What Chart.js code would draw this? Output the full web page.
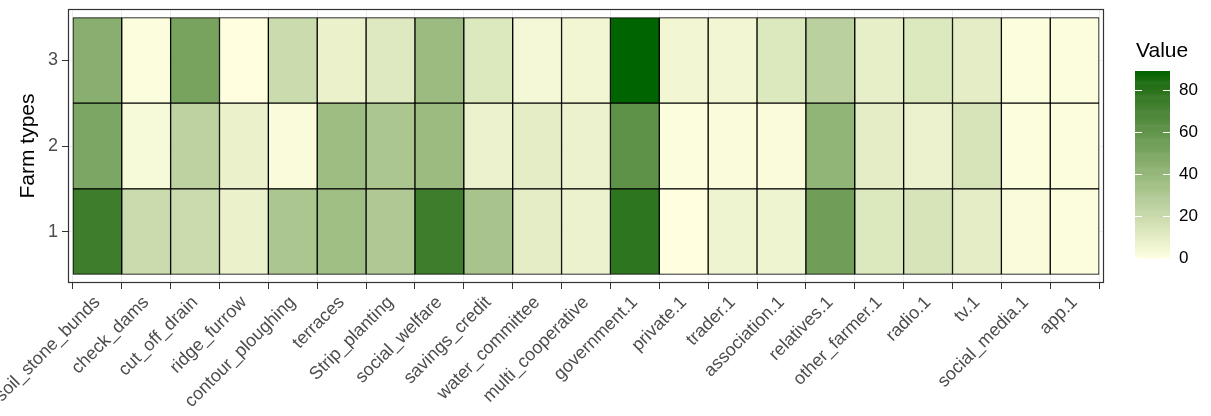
<!DOCTYPE html>
<html><head><meta charset="utf-8">
<script src="https://cdn.jsdelivr.net/npm/chart.js@4"></script>
<style>html,body{margin:0;padding:0;background:#fff}#wrap{width:1211px;height:416px;position:relative}</style>
</head><body><div id="wrap"><canvas id="c" width="1211" height="416"></canvas></div>
<script>
const categories = ['soil_stone_bunds','check_dams','cut_off_drain','ridge_furrow','contour_ploughing','terraces','Strip_planting','social_welfare','savings_credit','water_committee','multi_cooperative','government.1','private.1','trader.1','association.1','relatives.1','other_farmer.1','radio.1','tv.1','social_media.1','app.1'];
const farmTypes = ['1','2','3'];
const type1Values = [74,20,20,8,32,36,30,74,33,10,7,79,0,6,6,55,13,15,10,2,1];
const type2Values = [50,3,25,8,2,37,32,38,7,10,7,62,1,2,2,42,10,7,15,1,1];
const type3Values = [45,1,52,0,20,8,12,38,13,4,5,89,5,5,13,26,9,13,10,1,1];
const legendTicks = [0,20,40,60,80];
const legendTitle = 'Value';
const yTitle = 'Farm types';

const FONT = "'Liberation Sans', Arial, Helvetica, sans-serif";
const LOW = [255,255,224], HIGH = [0,100,0];

function srgbToLin(c){c/=255;return c<=0.04045?c/12.92:Math.pow((c+0.055)/1.055,2.4);}
function linToSrgb(c){c=c<=0.0031308?12.92*c:1.055*Math.pow(c,1/2.4)-0.055;return Math.max(0,Math.min(255,Math.round(c*255)));}
const Xn=0.95047,Yn=1,Zn=1.08883;
function f(t){return t>216/24389?Math.cbrt(t):(24389/27*t+16)/116;}
function finv(t){return t*t*t>216/24389?t*t*t:(116*t-16)/(24389/27);}
function toLab(rgb){const r=srgbToLin(rgb[0]),g=srgbToLin(rgb[1]),b=srgbToLin(rgb[2]);
  const X=0.4124*r+0.3576*g+0.1805*b,Y=0.2126*r+0.7152*g+0.0722*b,Z=0.0193*r+0.1192*g+0.9505*b;
  const fx=f(X/Xn),fy=f(Y/Yn),fz=f(Z/Zn);return [116*fy-16,500*(fx-fy),200*(fy-fz)];}
function fromLab(lab){const fy=(lab[0]+16)/116,fx=fy+lab[1]/500,fz=fy-lab[2]/200;
  const X=Xn*finv(fx),Y=Yn*finv(fy),Z=Zn*finv(fz);
  const r=3.2406*X-1.5372*Y-0.4986*Z,g=-0.9689*X+1.8758*Y+0.0415*Z,b=0.0557*X-0.2040*Y+1.0570*Z;
  return 'rgb('+linToSrgb(r)+','+linToSrgb(g)+','+linToSrgb(b)+')';}
const LOWLAB=toLab(LOW),HIGHLAB=toLab(HIGH);
const allValues=[...type1Values,...type2Values,...type3Values];
const vMin=Math.min(...allValues), vMax=Math.max(...allValues);
function fillColor(v){const t=(v-vMin)/(vMax-vMin);return fromLab([0,1,2].map(k=>LOWLAB[k]+(HIGHLAB[k]-LOWLAB[k])*t));}

const rows=[type1Values,type2Values,type3Values];

const framePlugin={id:'frame',afterDatasetsDraw(chart){const {ctx,chartArea:a}=chart;ctx.save();ctx.strokeStyle='#333';ctx.lineWidth=1.2;
  ctx.strokeRect(Math.round(a.left)+0.5,Math.round(a.top)+0.5,Math.round(a.right-a.left)-1,Math.round(a.bottom-a.top)-1);ctx.restore();}};

const legendPlugin={id:'colorbar',afterDraw(chart){const ctx=chart.ctx;ctx.save();
  const lx=1135,lw=35,ltop=71,lbot=258;
  const toY=v=>lbot-(v-vMin)/(vMax-vMin)*(lbot-ltop);
  const nb=200;
  for(let i=0;i<nb;i++){const v0=vMin+(vMax-vMin)*i/nb,v1=vMin+(vMax-vMin)*(i+1)/nb;
    ctx.fillStyle=fillColor((v0+v1)/2);const y1=toY(v1),y0=toY(v0);ctx.fillRect(lx,y1,lw,y0-y1+0.6);}
  ctx.strokeStyle='#fff';ctx.lineWidth=1;
  legendTicks.forEach(t=>{const y=Math.round(toY(t))+0.5;ctx.beginPath();ctx.moveTo(lx,y);ctx.lineTo(lx+lw/5,y);ctx.moveTo(lx+lw-lw/5,y);ctx.lineTo(lx+lw,y);ctx.stroke();});
  ctx.fillStyle='#000';ctx.font='17px '+FONT;ctx.textAlign='left';ctx.textBaseline='middle';
  legendTicks.forEach(t=>{ctx.fillText(String(t),lx+lw+9,toY(t));});
  ctx.font='21px '+FONT;ctx.textBaseline='alphabetic';ctx.fillText(legendTitle,1136,57);
  ctx.restore();}};

new Chart(document.getElementById('c'),{
  type:'bar',
  data:{datasets:rows.map((vals,r)=>({
    label:farmTypes[r],
    data:vals.map((v,i)=>({x:i+1,y:[r+0.5,r+1.5]})),
    backgroundColor:vals.map(fillColor),
    borderColor:'#000',borderWidth:1,borderSkipped:false,
    barPercentage:1,categoryPercentage:1
  }))},
  options:{
    responsive:false,animation:false,devicePixelRatio:1,
    layout:{padding:{top:9,right:107,left:0,bottom:0}},
    plugins:{legend:{display:false},tooltip:{enabled:false}},
    scales:{
      x:{type:'linear',min:0.4,max:21.6,stacked:true,offset:false,
        afterBuildTicks:s=>{s.ticks=categories.map((c,i)=>({value:i+1}));},
        afterFit:s=>{s.height=133;s.paddingLeft=0;s.paddingRight=0;},
        ticks:{autoSkip:false,minRotation:45,maxRotation:45,padding:3,color:'#4D4D4D',font:{family:FONT,size:18},
          callback:v=>categories[Math.round(v)-1]},
        grid:{color:'#EBEBEB',lineWidth:1,tickLength:6,tickColor:'#333',drawTicks:true},
        border:{display:false}},
      y:{type:'linear',min:0.4,max:3.6,stacked:false,
        afterBuildTicks:s=>{s.ticks=farmTypes.map((t,i)=>({value:i+1}));},
        afterFit:s=>{s.width=68;s.paddingTop=0;s.paddingBottom=0;},
        ticks:{padding:4,color:'#4D4D4D',font:{family:FONT,size:18},callback:v=>farmTypes[Math.round(v)-1]},
        grid:{color:'#EBEBEB',lineWidth:1,tickLength:6,tickColor:'#333',drawTicks:true},
        border:{display:false},
        title:{display:true,text:yTitle,color:'#000',font:{family:FONT,size:21},padding:{top:16,bottom:0}}}
    }
  },
  plugins:[framePlugin,legendPlugin]
});
</script></body></html>
